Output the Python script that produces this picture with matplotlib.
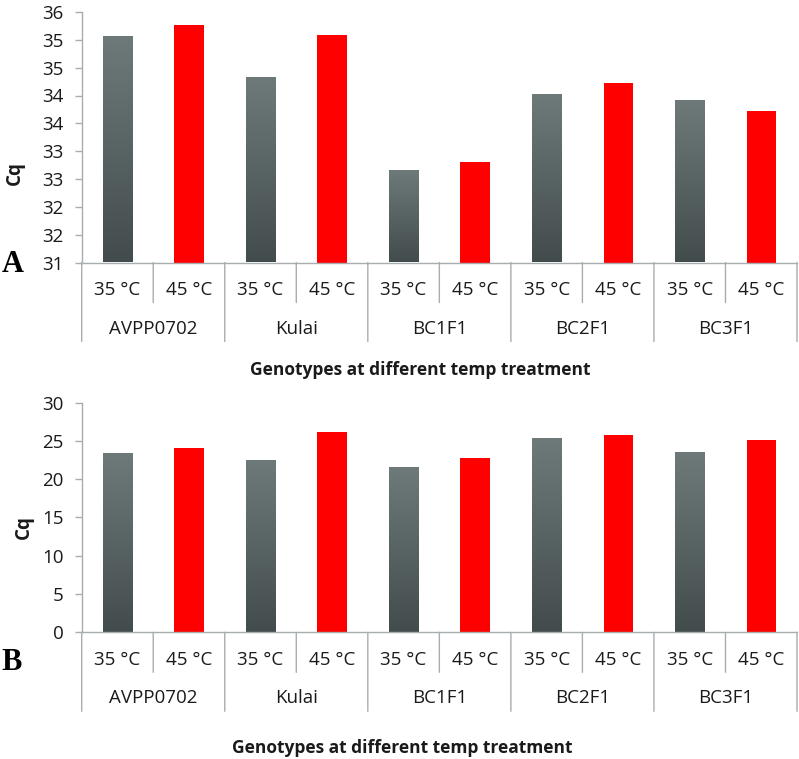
import numpy as np
import matplotlib
matplotlib.use("Agg")
from matplotlib import pyplot as plt
from matplotlib import transforms
from matplotlib.colors import LinearSegmentedColormap

# data
genotypes = ["AVPP0702", "Kulai", "BC1F1", "BC2F1", "BC3F1"]
temps = ["35 °C", "45 °C"]
cq_a_35 = [35.07, 34.33, 32.67, 34.03, 33.92]
cq_a_45 = [35.26, 35.09, 32.80, 34.22, 33.72]
cq_b_35 = [23.4, 22.45, 21.55, 25.4, 23.6]
cq_b_45 = [24.1, 26.1, 22.7, 25.8, 25.15]

W, H = 799, 759
AXIS_GRAY = "#a8adb0"
TEXT = "#1a1a1a"
RED = "#ff0000"
gray_cmap = LinearSegmentedColormap.from_list("bar_gray", ["#434c4c", "#6e7a7a"])

plt.rcParams["font.family"] = ["Open Sans", "DejaVu Sans"]

fig = plt.figure(figsize=(W / 100, H / 100), dpi=100)


def px_box(left, top, right, bottom):
    return [left / W, 1 - bottom / H, (right - left) / W, (bottom - top) / H]


def draw_panel(ax, vals35, vals45, base, top, step, label_fmt):
    n = len(genotypes)
    x35 = np.arange(n) * 2
    x45 = x35 + 1
    b35 = ax.bar(x35, np.array(vals35) - base, bottom=base, width=0.41,
                 color="none", edgecolor="none", zorder=2)
    ax.bar(x45, np.array(vals45) - base, bottom=base, width=0.41,
           color=RED, edgecolor="none", zorder=2)

    # vertical gradient on the grey bars
    grad = np.linspace(0, 1, 256).reshape(-1, 1)
    for bar in b35:
        x0, y0 = bar.get_x(), bar.get_y()
        im = ax.imshow(grad, cmap=gray_cmap, origin="lower", aspect="auto",
                       extent=[x0, x0 + bar.get_width(), y0, y0 + bar.get_height()],
                       zorder=2)
        im.set_clip_path(bar)

    ax.set_xlim(-0.5, 2 * n - 0.5)
    ax.set_ylim(base, top)
    ticks = np.arange(base, top + step / 2, step)
    ax.set_yticks(ticks)
    ax.set_yticklabels([label_fmt(t) for t in ticks])
    ax.set_xticks([])

    for s in ["top", "right"]:
        ax.spines[s].set_visible(False)
    for s in ["left", "bottom"]:
        ax.spines[s].set_color(AXIS_GRAY)
        ax.spines[s].set_linewidth(1.0)
    ax.tick_params(axis="y", length=5, width=1.0, color=AXIS_GRAY,
                   labelsize=13.5, labelcolor=TEXT, pad=8)

    # two-level category axis below the plot
    def below(dy):
        return ax.get_xaxis_transform() + transforms.ScaledTranslation(
            0, -dy / 100, fig.dpi_scale_trans)

    for i in range(2 * n + 1):
        xpos = i - 0.5
        length = 79 if i % 2 == 0 else 40
        ax.annotate("", xy=(xpos, 0), xycoords=below(length),
                    xytext=(xpos, 0), textcoords=below(0),
                    arrowprops=dict(arrowstyle="-", color=AXIS_GRAY, lw=1.0,
                                    shrinkA=0, shrinkB=0))

    for i in range(n):
        for j, t in enumerate(temps):
            ax.text(2 * i + j, 0, t, transform=below(27.5), ha="center",
                    va="center", fontsize=13.5, color=TEXT)
        ax.text(2 * i + 0.5, 0, genotypes[i], transform=below(66),
                ha="center", va="center", fontsize=13.5, color=TEXT)


def excel_round(v):
    return str(int(np.floor(v + 0.5)))


ax_a = fig.add_axes(px_box(81.7, 12, 797, 262.5))
draw_panel(ax_a, cq_a_35, cq_a_45, 31, 35.5, 0.5, excel_round)

ax_b = fig.add_axes(px_box(81.7, 402.5, 797, 632.3))
draw_panel(ax_b, cq_b_35, cq_b_45, 0, 30, 5, lambda v: f"{v:.0f}")

# axis titles and panel letters
fig.text(15 / W, 1 - 173 / H, "Cq", rotation=90, ha="center", va="center",
         fontsize=13.5, fontweight="bold", color=TEXT)
fig.text(24 / W, 1 - 527 / H, "Cq", rotation=90, ha="center", va="center",
         fontsize=13.5, fontweight="bold", color=TEXT)
fig.text(420 / W, 1 - 370 / H, "Genotypes at different temp treatment",
         ha="center", va="center", fontsize=12.5, fontweight="bold", color=TEXT)
fig.text(402 / W, 1 - 748 / H, "Genotypes at different temp treatment",
         ha="center", va="center", fontsize=12.5, fontweight="bold", color=TEXT)
fig.text(12.5 / W, 1 - 264 / H, "A", ha="center", va="center", fontsize=22,
         fontweight="bold", family="Liberation Serif", color="black")
fig.text(12 / W, 1 - 663 / H, "B", ha="center", va="center", fontsize=22,
         fontweight="bold", family="Liberation Serif", color="black")

fig.savefig("out.png", dpi=100)
